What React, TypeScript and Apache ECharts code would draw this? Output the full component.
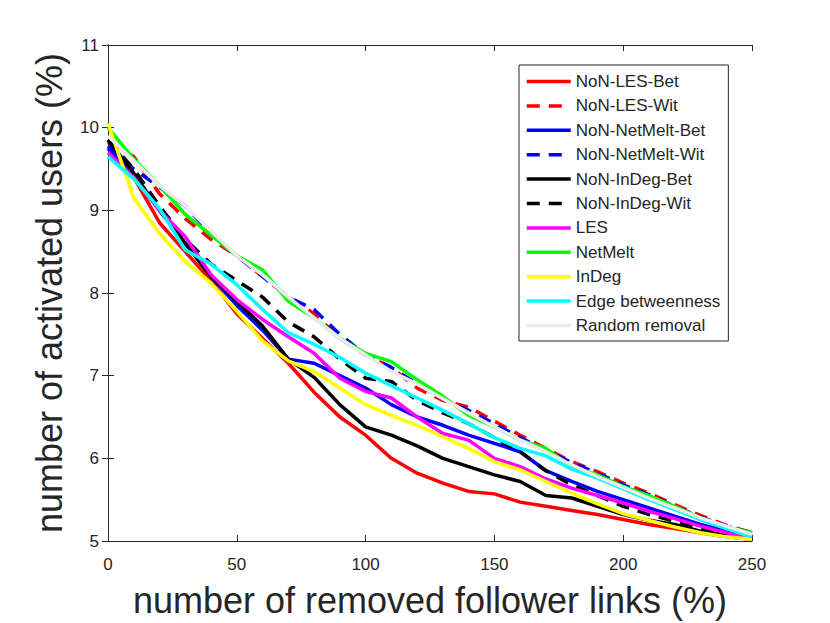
import React, { useEffect, useRef } from "react";
import * as echarts from "echarts";

const xValues = [0, 10, 20, 30, 40, 50, 60, 70, 80, 90, 100, 110, 120, 130, 140, 150, 160, 170, 180, 190, 200, 210, 220, 230, 240, 250];

const nonLesBet = [9.75, 9.4, 8.85, 8.5, 8.15, 7.75, 7.45, 7.15, 6.8, 6.5, 6.28, 6.0, 5.82, 5.7, 5.6, 5.57, 5.47, 5.42, 5.37, 5.32, 5.26, 5.2, 5.15, 5.1, 5.05, 5.02];
const nonLesWit = [9.82, 9.65, 9.2, 8.9, 8.65, 8.45, 8.2, 7.95, 7.75, 7.45, 7.25, 7.1, 6.85, 6.7, 6.62, 6.45, 6.28, 6.12, 5.96, 5.84, 5.7, 5.58, 5.44, 5.31, 5.19, 5.1];
const nonNetMeltBet = [9.75, 9.4, 9.0, 8.6, 8.2, 7.85, 7.55, 7.2, 7.15, 7.0, 6.85, 6.65, 6.5, 6.4, 6.28, 6.18, 6.08, 5.85, 5.72, 5.6, 5.5, 5.4, 5.3, 5.2, 5.12, 5.06];
const nonNetMeltWit = [9.78, 9.5, 9.28, 9.05, 8.72, 8.45, 8.2, 7.95, 7.8, 7.5, 7.25, 7.1, 6.9, 6.72, 6.58, 6.42, 6.25, 6.1, 5.95, 5.82, 5.68, 5.56, 5.42, 5.29, 5.18, 5.1];
const nonInDegBet = [9.85, 9.45, 9.0, 8.6, 8.2, 7.9, 7.6, 7.2, 6.98, 6.65, 6.38, 6.28, 6.15, 6.0, 5.9, 5.8, 5.72, 5.55, 5.52, 5.42, 5.32, 5.25, 5.2, 5.12, 5.07, 5.03];
const nonInDegWit = [9.85, 9.5, 9.05, 8.65, 8.35, 8.15, 7.95, 7.65, 7.47, 7.2, 6.97, 6.93, 6.7, 6.55, 6.42, 6.25, 6.08, 5.85, 5.68, 5.55, 5.42, 5.32, 5.24, 5.16, 5.1, 5.05];
const les = [9.7, 9.4, 9.0, 8.68, 8.22, 7.92, 7.68, 7.47, 7.27, 6.97, 6.81, 6.73, 6.5, 6.3, 6.22, 6.0, 5.9, 5.75, 5.64, 5.55, 5.46, 5.36, 5.27, 5.18, 5.1, 5.04];
const netMelt = [10.0, 9.62, 9.3, 8.95, 8.7, 8.45, 8.28, 7.9, 7.7, 7.45, 7.27, 7.17, 6.95, 6.75, 6.52, 6.38, 6.22, 6.12, 5.9, 5.8, 5.66, 5.55, 5.42, 5.28, 5.17, 5.1];
const inDeg = [10.05, 9.15, 8.72, 8.38, 8.12, 7.78, 7.42, 7.18, 7.05, 6.85, 6.65, 6.52, 6.4, 6.26, 6.12, 5.96, 5.86, 5.72, 5.58, 5.45, 5.33, 5.25, 5.17, 5.1, 5.05, 5.02];
const edgeBetweenness = [9.65, 9.38, 9.02, 8.52, 8.35, 8.1, 7.8, 7.52, 7.38, 7.22, 7.03, 6.88, 6.73, 6.58, 6.42, 6.25, 6.12, 6.03, 5.87, 5.76, 5.63, 5.5, 5.38, 5.26, 5.15, 5.05];
const randomRemoval = [9.9, 9.6, 9.3, 9.05, 8.75, 8.45, 8.22, 7.95, 7.7, 7.45, 7.25, 7.05, 6.9, 6.72, 6.55, 6.38, 6.22, 6.08, 5.92, 5.78, 5.65, 5.52, 5.4, 5.28, 5.18, 5.08];

const seriesNames = ["NoN-LES-Bet", "NoN-LES-Wit", "NoN-NetMelt-Bet", "NoN-NetMelt-Wit", "NoN-InDeg-Bet", "NoN-InDeg-Wit", "LES", "NetMelt", "InDeg", "Edge betweenness", "Random removal"];
const seriesValues = [nonLesBet, nonLesWit, nonNetMeltBet, nonNetMeltWit, nonInDegBet, nonInDegWit, les, netMelt, inDeg, edgeBetweenness, randomRemoval];
const seriesColors = ["#ff0000", "#ff0000", "#0000ff", "#0000ff", "#000000", "#000000", "#ff00ff", "#00ff00", "#ffff00", "#00ffff", "#ebebeb"];
const seriesDashed = [false, true, false, true, false, true, false, false, false, false, false];

const xTitle = "number of removed follower links (%)";
const yTitle = "number of activated users (%)";

const FONT = "'Liberation Sans', Arial, Helvetica, sans-serif";
const AX = "#262626";

export default function App() {
  const ref = useRef<HTMLDivElement>(null);
  useEffect(() => {
    if (!ref.current) return;
    const chart = echarts.init(ref.current, undefined, { renderer: "svg" });
    const axisCommon = {
      type: "value" as const,
      axisLine: { show: true, lineStyle: { color: AX, width: 1 } },
      axisTick: { show: true, inside: true, length: 6, lineStyle: { color: AX } },
      splitLine: { show: false },
    };
    chart.setOption({
      animation: false,
      backgroundColor: "#ffffff",
      grid: { left: 108, top: 45, right: 78, bottom: 82 },
      legend: {
        orient: "vertical",
        left: 519,
        top: 65,
        padding: [8, 8, 7, 6],
        itemWidth: 44,
        itemHeight: 17,
        itemGap: 7.4,
        backgroundColor: "#ffffff",
        borderColor: AX,
        borderWidth: 1,
        itemStyle: { opacity: 0, borderWidth: 0 },
        lineStyle: { width: 3.5 },
        textStyle: { fontFamily: FONT, fontSize: 17, color: AX, lineHeight: 17 },
        data: seriesNames,
      },
      xAxis: [
        {
          ...axisCommon,
          position: "bottom",
          min: 0,
          max: 250,
          interval: 50,
          axisLabel: { fontFamily: FONT, fontSize: 17, color: AX, margin: 15 },
          name: xTitle,
          nameLocation: "middle",
          nameGap: 41,
          nameTextStyle: { fontFamily: FONT, fontSize: 36, color: AX },
        },
        {
          ...axisCommon,
          position: "top",
          min: 0,
          max: 250,
          interval: 50,
          axisLabel: { show: false },
        },
      ],
      yAxis: [
        {
          ...axisCommon,
          position: "left",
          min: 5,
          max: 11,
          interval: 1,
          axisLabel: { fontFamily: FONT, fontSize: 17, color: AX, margin: 9 },
          name: yTitle,
          nameLocation: "middle",
          nameGap: 41,
          nameTextStyle: { fontFamily: FONT, fontSize: 36, color: AX },
        },
        {
          ...axisCommon,
          position: "right",
          min: 5,
          max: 11,
          interval: 1,
          axisLabel: { show: false },
        },
      ],
      series: seriesNames.map((name, i) => ({
        name,
        type: "line",
        xAxisIndex: 0,
        yAxisIndex: 0,
        symbol: "none",
        showSymbol: false,
        smooth: false,
        data: xValues.map((x, j) => [x, seriesValues[i][j]]),
        lineStyle: {
          color: seriesColors[i],
          width: 3.5,
          type: seriesDashed[i] ? [13, 9] : "solid",
        },
        itemStyle: { color: seriesColors[i] },
      })),
    });
    return () => chart.dispose();
  }, []);
  return <div ref={ref} style={{ position: "fixed", left: 0, top: 0, width: 830, height: 623 }} />;
}
